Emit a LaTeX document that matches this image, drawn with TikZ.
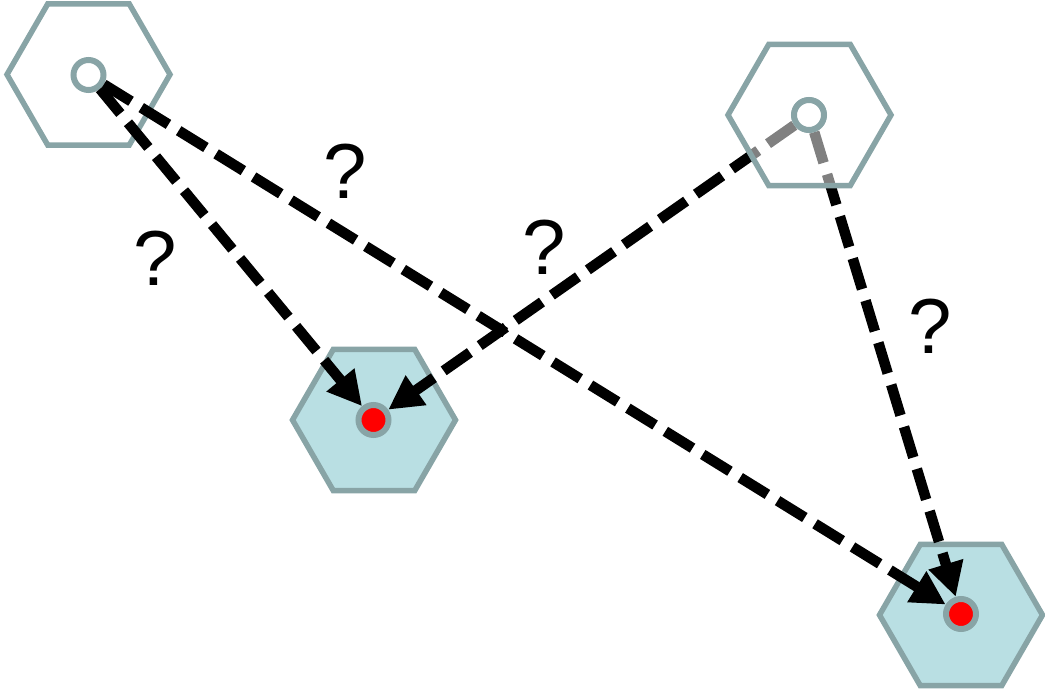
\documentclass[tikz,border=0pt]{standalone}
\usepackage{fontspec}
\setmainfont{Liberation Sans}
\usetikzlibrary{shapes.geometric,arrows.meta}
\definecolor{hexline}{RGB}{136,164,166}
\definecolor{hexfill}{RGB}{185,223,227}
\tikzset{
  hexa/.style={regular polygon, regular polygon sides=6, shape border rotate=0,
    minimum size=163pt, inner sep=0pt, draw=hexline, line width=5.5pt},
  opendot/.style={circle, minimum size=30pt, inner sep=0pt, draw=hexline, fill=white, line width=6pt},
  reddot/.style={circle, minimum size=30pt, inner sep=0pt, draw=hexline, fill=red, line width=6pt},
  conn/.style={line width=10.5pt, dash pattern=on 32pt off 12pt, -{Triangle[length=34pt,width=34pt]}},
  qmark/.style={font=\fontsize{78}{80}\selectfont, inner sep=0pt}
}
\begin{document}
\begin{tikzpicture}[x=1pt,y=-1pt]
\useasboundingbox (0,0) rectangle (1045,692);
\node[hexa, fill=hexfill] (hm) at (374,420) {};
\node[hexa, fill=hexfill] (hb) at (961,615) {};
\node[hexa] (htl) at (88.5,74.5) {};
\node[reddot] (dm) at (373.5,420) {};
\node[reddot] (db) at (961,614) {};
\node[opendot] (otl) at (88.5,75) {};
\coordinate (otrc) at (809,115);
\node[opendot] (otr) at (otrc) {};
\draw[conn] (otl) -- (dm);
\draw[conn] (otl) -- (db);
\draw[conn] (otr) -- (dm);
\draw[conn] (otr) -- (db);
\node[hexa, fill=white, fill opacity=0.5] (htr) at (809.5,115) {};
\node[opendot] (otr2) at (otrc) {};
\node[qmark] (q1) at (155,258) {?};
\node[qmark] (q2) at (345,171) {?};
\node[qmark] (q3) at (544,247) {?};
\node[qmark] (q4) at (930,326) {?};
\end{tikzpicture}
\end{document}
